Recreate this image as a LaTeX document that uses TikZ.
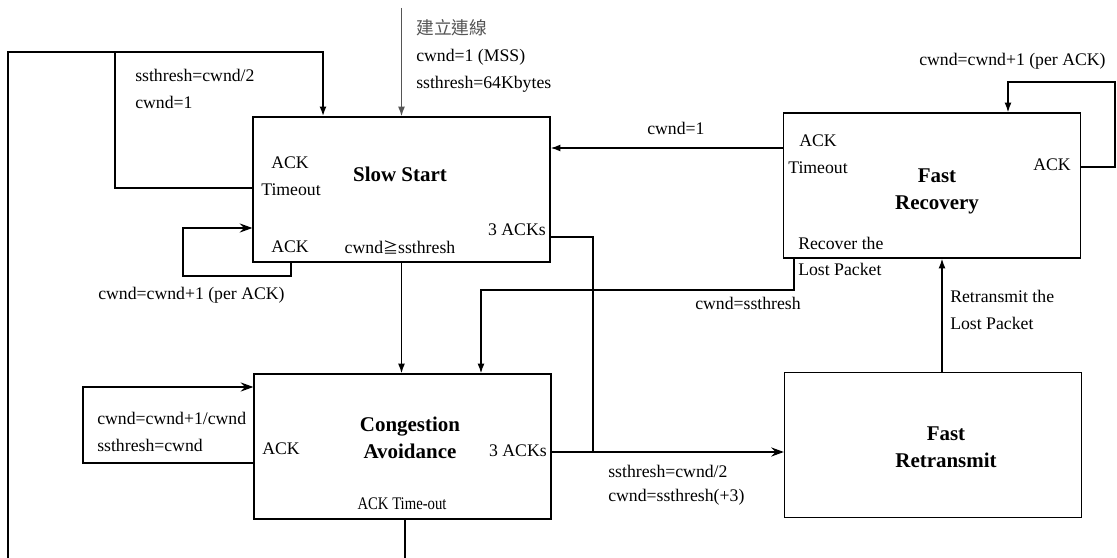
\documentclass[tikz,border=0pt]{standalone}
\usepackage{graphicx}
\usepackage{fontspec}
\setmainfont{Liberation Serif}
\newfontfamily\cjk{Noto Sans CJK TC}
\usepackage{tikz}
\usetikzlibrary{arrows.meta}
\usepackage{xcolor}
\definecolor{inlink}{HTML}{555555}

\tikzset{
  statebox/.style={draw, line width=1pt, minimum width=7.42cm, minimum height=3.62cm, inner sep=0pt},
  lbl/.style={inner sep=0pt, font=\fontsize{12.6}{15}\selectfont},
  ttl/.style={inner sep=0pt, align=center, font=\fontsize{14.9}{19.2}\selectfont\bfseries},
  wire/.style={line width=1pt},
  tip/.style={-{Latex[length=7pt,width=5pt]}},
  barb/.style={-{Stealth[length=9pt,width=6.5pt,inset=3pt]}},
}

\begin{document}
\begin{tikzpicture}[x=0.025cm, y=-0.025cm]
  \useasboundingbox (0,0) rectangle (1117,558);

  % states
  \node[statebox] (ss)  at (401.5,189.5) {};
  \node[statebox] (fr)  at (932,185.5) {};
  \node[statebox] (ca)  at (402.5,446.5) {};
  \node[statebox] (frt) at (933,445) {};

  \node[ttl] (ssname)  at (400,174) {Slow Start};
  \node[ttl] (frname)  at (937,191) {Fast\\Recovery};
  \node[ttl] (caname)  at (410,437.5) {Congestion\\Avoidance};
  \node[ttl] (frtname) at (946,447) {Fast\\Retransmit};

  % labels inside the states
  \node[lbl] (ssack)   at (290,163) {ACK};
  \node[lbl] (sstime)  at (291,190) {Timeout};
  \node[lbl, anchor=east] (ss3ack) at (546,230) {3 ACKs};
  \node[lbl] (ssack2)  at (290,247) {ACK};
  \node[lbl] (sscond)  at (400,247) {cwnd{\cjk\scalebox{0.85}{≧}}ssthresh};
  \node[lbl] (frack)   at (818,141) {ACK};
  \node[lbl] (frtime)  at (818,168) {Timeout};
  \node[lbl] (frack2)  at (1052,165) {ACK};
  \node[lbl, anchor=west] (frrec) at (798,243) {Recover the};
  \node[lbl] (caack)   at (281,449) {ACK};
  \node[lbl, anchor=east] (ca3ack) at (547,451) {3 ACKs};
  \node[lbl] (catime)  at (402,504) {\scalebox{0.83}[1]{ACK Time-out}};

  % labels on the connectors
  \node[lbl, anchor=west, text=inlink] (open) at (416,28) {\cjk 建立連線};
  \node[lbl, anchor=west] (openmss)  at (416,57) {cwnd=1 (MSS)};
  \node[lbl, anchor=west] (openth)   at (416,84) {ssthresh=64Kbytes};
  \node[lbl, anchor=west] (tohalf)   at (135,75) {ssthresh=cwnd/2};
  \node[lbl, anchor=west] (toone)    at (135,102) {cwnd=1};
  \node[lbl, anchor=west] (ssinc)    at (98,295) {cwnd=cwnd+1 (per ACK)};
  \node[lbl, anchor=west] (frone)    at (647,128) {cwnd=1};
  \node[lbl, anchor=west] (frinc)    at (919,61) {cwnd=cwnd+1 (per ACK)};
  \node[lbl, anchor=west] (frlost)   at (798,269) {Lost Packet};
  \node[lbl, anchor=west] (frset)    at (695,303) {cwnd=ssthresh};
  \node[lbl, anchor=west] (rtx)      at (950,296) {Retransmit the};
  \node[lbl, anchor=west] (rtxlost)  at (950,323) {Lost Packet};
  \node[lbl, anchor=west] (dupth)    at (608,471) {ssthresh=cwnd/2};
  \node[lbl, anchor=west] (dupcw)    at (608,497) {cwnd=ssthresh(+3)};
  \node[lbl, anchor=west] (cainc)    at (97,418) {cwnd=cwnd+1/cwnd};
  \node[lbl, anchor=west] (caset)    at (97,445) {ssthresh=cwnd};

  % connectors
  \draw[wire, tip, inlink] (ss.north |- 0,8) -- (ss.north);
  \draw[wire] (ss.west |- 0,188) -| (115,52);
  \draw[wire] (ca.south -| 405,0) -- (405,580) -| (8,52) -- (115,52);
  \draw[line width=1.5pt, tip] (115,52) -| (ss.north -| 323,0);
  \draw[wire, barb] (ss.south -| 291,0) |- (183,276) |- (ss.west |- 0,228);
  \draw[wire, tip] (ss.south) -- (ss.south |- ca.north);
  \draw[wire, tip] (fr.west |- 0,148) -- (ss.east |- 0,148);
  \draw[wire, tip] (fr.east |- 0,167) -| (1115,82) -| (fr.north -| 1008,0);
  \draw[wire, barb] (ss.east |- 0,237) -| (593,452) -- (frt.west |- 0,452);
  \draw[wire] (ca.east |- 0,452) -- (593,452);
  \draw[wire, tip] (fr.south -| 794,0) |- (481,290) -- (ca.north -| 481,0);
  \draw[wire, tip] (frt.north -| 942,0) -- (fr.south -| 942,0);
  \draw[wire, barb] (ca.west |- 0,463) -| (83,387) -- (ca.west |- 0,387);
\end{tikzpicture}
\end{document}
